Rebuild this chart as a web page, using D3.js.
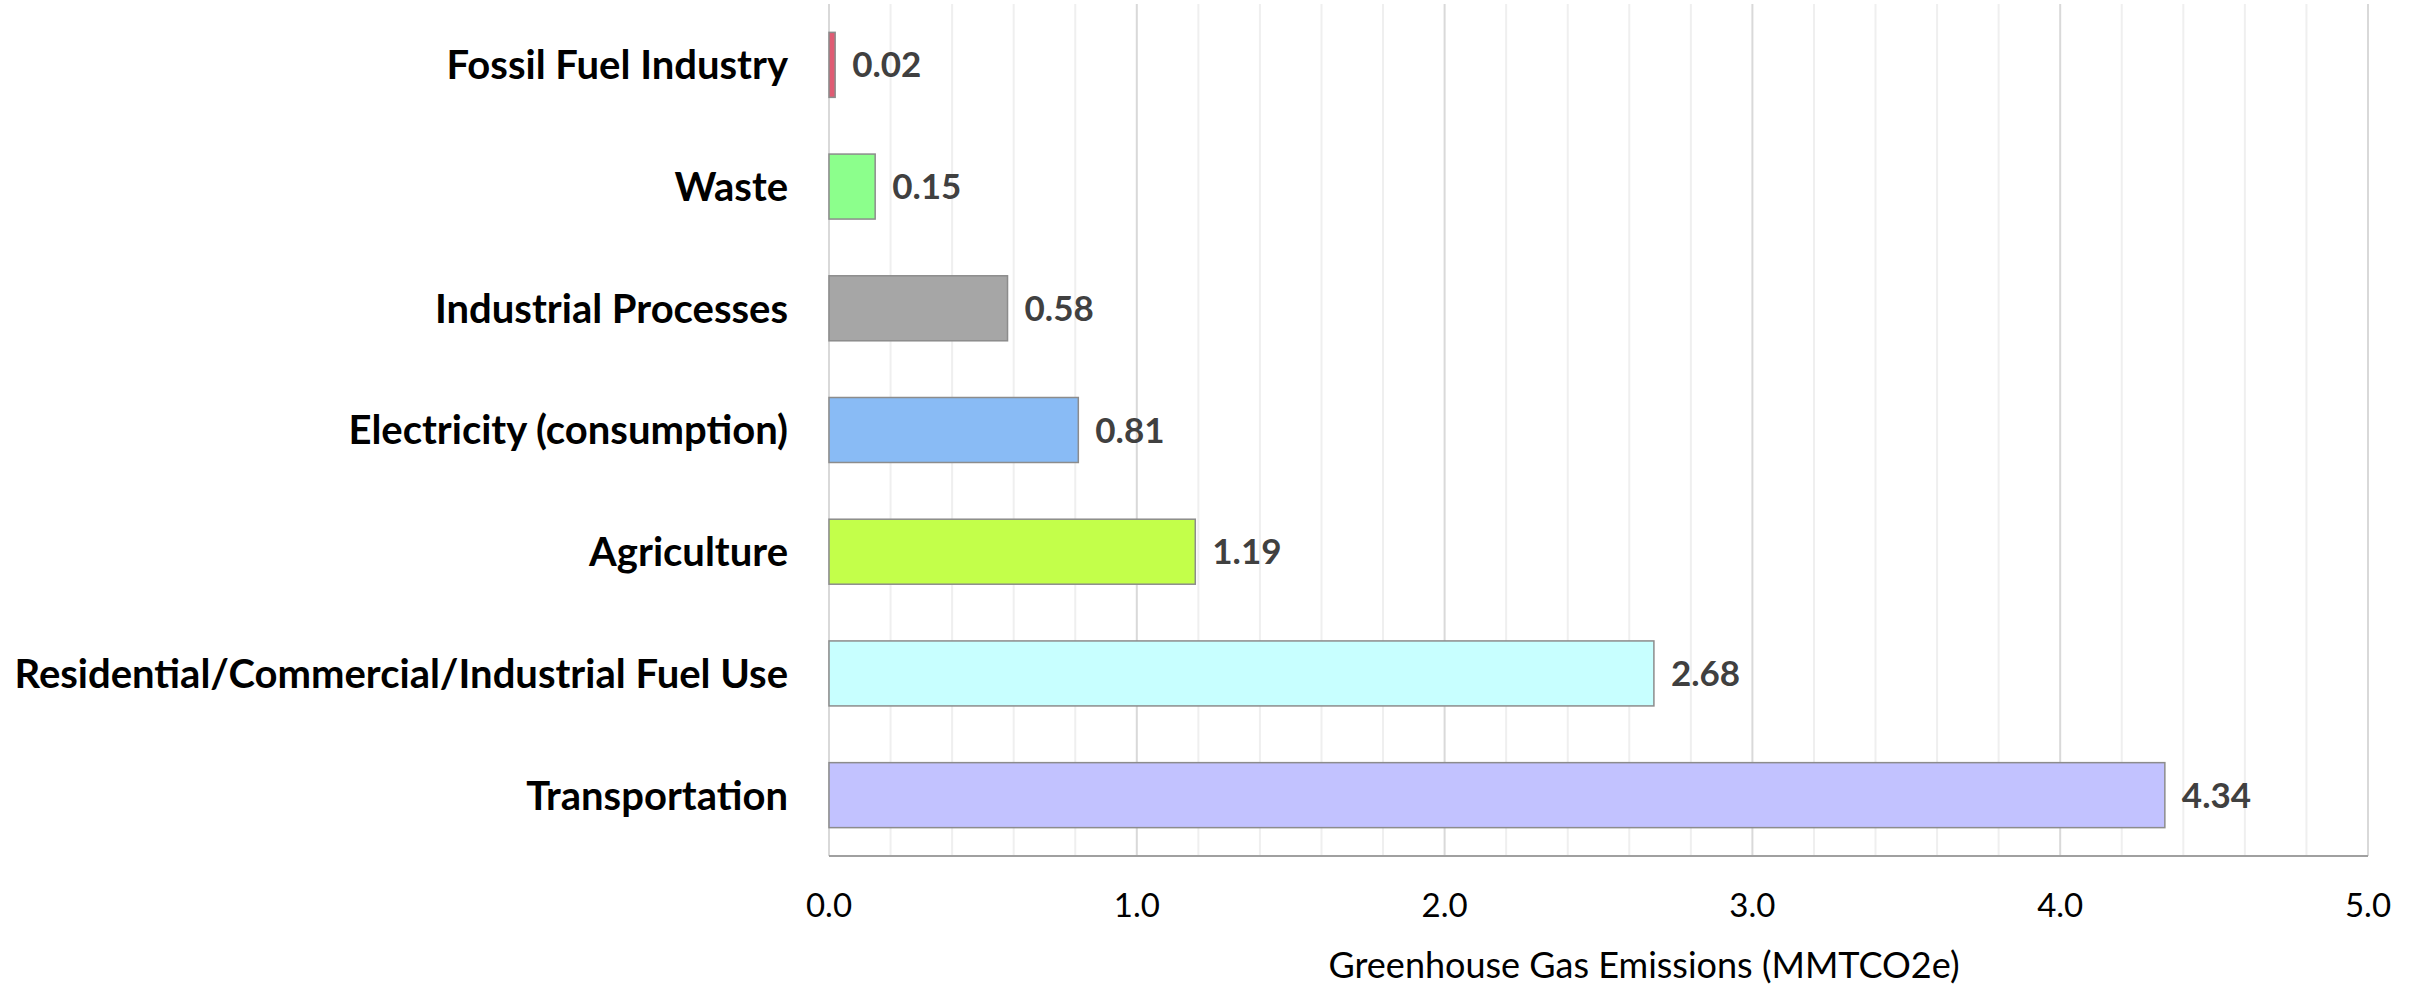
<!DOCTYPE html>
<html>
  <head>
    <title>Greenhouse Gas Emissions</title>
    <script src="https://d3js.org/d3.v7.min.js"></script>
    <style>
      body { margin: 0; background: #fff; }
    </style>
  </head>
  <body>
  </body>
  <script>

var categories = [
    "Fossil Fuel Industry",
    "Waste",
    "Industrial Processes",
    "Electricity (consumption)",
    "Agriculture",
    "Residential/Commercial/Industrial Fuel Use",
    "Transportation"
];
var values = [0.02, 0.15, 0.58, 0.81, 1.19, 2.68, 4.34];
var colors = ["#df5b73", "#8cff8c", "#a6a6a6", "#89bbf5", "#c3ff4a", "#c8ffff", "#c2c2ff"];
var ticks = [0, 1, 2, 3, 4, 5];
var axisTitle = "Greenhouse Gas Emissions (MMTCO2e)";

var width = 2422, height = 988;
var plotLeft = 829, plotRight = 2368, plotTop = 4, plotBottom = 856;
var fontFam = "Lato, 'Open Sans', sans-serif";

var svg = d3.select("body").append("svg")
    .attr("width", width)
    .attr("height", height);

var x = d3.scaleLinear().domain([0, 5]).range([plotLeft, plotRight]);
var y = d3.scaleBand().domain(categories).range([plotTop, plotBottom])
    .paddingInner(0.466).paddingOuter(0.233);

// minor grid every 0.2
var minor = d3.range(0, 5.001, 0.2).filter(function(v) { return Math.abs(v - Math.round(v)) > 0.01; });
svg.append("g").selectAll("line").data(minor).enter().append("line")
    .attr("x1", function(d) { return x(d); })
    .attr("x2", function(d) { return x(d); })
    .attr("y1", plotTop).attr("y2", plotBottom)
    .attr("stroke", "#efefef").attr("stroke-width", 2);

svg.append("g").selectAll("line").data(ticks).enter().append("line")
    .attr("x1", function(d) { return x(d); })
    .attr("x2", function(d) { return x(d); })
    .attr("y1", plotTop).attr("y2", plotBottom)
    .attr("stroke", "#d9d9d9").attr("stroke-width", 2);

// bottom axis line
svg.append("line")
    .attr("x1", plotLeft).attr("x2", plotRight)
    .attr("y1", plotBottom).attr("y2", plotBottom)
    .attr("stroke", "#a0a0a0").attr("stroke-width", 2);

svg.append("g").selectAll("rect").data(values).enter().append("rect")
    .attr("x", x(0))
    .attr("y", function(d, i) { return y(categories[i]); })
    .attr("width", function(d) { return x(d) - x(0); })
    .attr("height", y.bandwidth())
    .attr("fill", function(d, i) { return colors[i]; })
    .attr("stroke", "#8c8c8c")
    .attr("stroke-width", 1.5);

// value labels
svg.append("g").selectAll("text").data(values).enter().append("text")
    .attr("x", function(d) { return x(d) + 17; })
    .attr("y", function(d, i) { return y(categories[i]) + y.bandwidth() / 2; })
    .attr("dy", "0.36em")
    .attr("font-family", fontFam)
    .attr("font-weight", "bold")
    .attr("font-size", 35)
    .attr("fill", "#404040")
    .text(function(d) { return d.toFixed(2); });

// category labels
svg.append("g").selectAll("text").data(categories).enter().append("text")
    .attr("x", 788)
    .attr("y", function(d) { return y(d) + y.bandwidth() / 2; })
    .attr("dy", "0.36em")
    .attr("text-anchor", "end")
    .attr("font-family", fontFam)
    .attr("font-weight", "bold")
    .attr("font-size", 40)
    .attr("fill", "#000")
    .text(function(d) { return d; });

// tick labels
svg.append("g").selectAll("text").data(ticks).enter().append("text")
    .attr("x", function(d) { return x(d); })
    .attr("y", 917)
    .attr("text-anchor", "middle")
    .attr("font-family", fontFam)
    .attr("font-size", 33)
    .attr("fill", "#000")
    .text(function(d) { return d.toFixed(1); });

svg.append("text")
    .attr("x", 1644)
    .attr("y", 978)
    .attr("text-anchor", "middle")
    .attr("font-family", fontFam)
    .attr("font-size", 36)
    .attr("fill", "#000")
    .text(axisTitle);

  </script>
</html>
